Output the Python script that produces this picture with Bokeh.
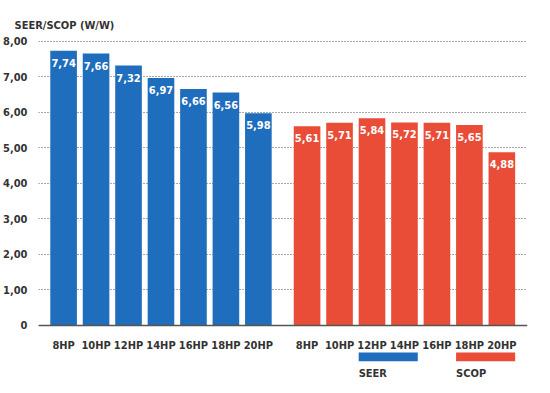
from bokeh.plotting import figure
from bokeh.models import Range1d, FixedTicker, ColumnDataSource
from bokeh.core.properties import value
from bokeh.embed import file_html
from bokeh.resources import INLINE

categories = ["8HP", "10HP", "12HP", "14HP", "16HP", "18HP", "20HP"]
seer = [7.74, 7.66, 7.32, 6.97, 6.66, 6.56, 5.98]
scop = [5.61, 5.71, 5.84, 5.72, 5.71, 5.65, 4.88]
series_names = ["SEER", "SCOP"]
y_ticks = [0, 1, 2, 3, 4, 5, 6, 7, 8]
y_tick_labels = ["0", "1,00", "2,00", "3,00", "4,00", "5,00", "6,00", "7,00", "8,00"]
y_title = "SEER/SCOP (W/W)"

BLUE = "#1f6dbd"
RED = "#e94c37"
FONT = "DejaVu Sans Condensed"
TXT = "#333333"
FS = "11px"

group_gap = 1.5
n = len(categories)
x_seer = [float(i) for i in range(n)]
x_scop = [n - 1 + group_gap + i for i in range(n)]

def fmt(v):
    return f"{v:.2f}".replace(".", ",")

p = figure(width=534, height=385, output_backend="svg", toolbar_location=None,
           x_range=Range1d(-0.773, x_scop[-1] + 0.79), y_range=Range1d(-1.69, 8.14),
           min_border_left=30, min_border_right=7, min_border_top=36, min_border_bottom=0)
p.outline_line_color = None
p.background_fill_color = "white"

p.title.text = y_title
p.title.align = "left"
p.title.offset = -24
p.title.text_font = FONT
p.title.text_font_size = FS
p.title.text_font_style = "bold"
p.title.text_color = TXT

bw = 0.82
src_s = ColumnDataSource(dict(x=x_seer, top=seer, lab=[fmt(v) for v in seer]))
src_c = ColumnDataSource(dict(x=x_scop, top=scop, lab=[fmt(v) for v in scop]))
p.vbar(x="x", top="top", width=bw, bottom=0, source=src_s, fill_color=BLUE, line_color=None)
p.vbar(x="x", top="top", width=bw, bottom=0, source=src_c, fill_color=RED, line_color=None)
for src in (src_s, src_c):
    p.text(x="x", y="top", text="lab", source=src, text_align="center", text_baseline="top",
           y_offset=8, text_color="white", text_font=value(FONT), text_font_size=FS,
           text_font_style="bold")

# legend swatches below the axis
legend_spans = [(x_scop[2], x_scop[3]), (x_scop[5], x_scop[6])]
leg = ColumnDataSource(dict(
    left=[a - bw / 2 for a, b in legend_spans],
    right=[b + bw / 2 for a, b in legend_spans],
    color=[BLUE, RED],
    name=series_names,
))
p.quad(left="left", right="right", bottom=-1.01, top=-0.76, fill_color="color",
       line_color=None, source=leg)
p.text(x="left", y=-1.17, text="name", source=leg, text_baseline="top", text_align="left",
       text_font=value(FONT), text_font_size=FS, text_font_style="bold", text_color=TXT)

# axes
p.xaxis.fixed_location = 0
p.xaxis.ticker = FixedTicker(ticks=x_seer + x_scop)
overrides = {}
for xv, c in zip(x_seer, categories):
    overrides[xv] = c
for xv, c in zip(x_scop, categories):
    overrides[xv] = c
p.xaxis.major_label_overrides = overrides
p.xaxis.major_tick_line_color = None
p.xaxis.minor_tick_line_color = None
p.xaxis.axis_line_color = "#555555"
p.xaxis.axis_line_width = 1.5
p.xaxis.major_label_standoff = 8
p.xaxis.major_label_text_font = FONT
p.xaxis.major_label_text_font_size = FS
p.xaxis.major_label_text_font_style = "bold"
p.xaxis.major_label_text_color = TXT

p.yaxis.ticker = FixedTicker(ticks=y_ticks)
p.yaxis.major_label_overrides = {t: l for t, l in zip(y_ticks, y_tick_labels)}
p.yaxis.axis_line_color = None
p.yaxis.major_tick_line_color = None
p.yaxis.minor_tick_line_color = None
p.yaxis.major_label_standoff = 5
p.yaxis.major_label_text_font = FONT
p.yaxis.major_label_text_font_size = FS
p.yaxis.major_label_text_font_style = "bold"
p.yaxis.major_label_text_color = TXT

p.xgrid.grid_line_color = None
p.ygrid.grid_line_color = "#555555"
p.ygrid.grid_line_dash = "1 2"
p.ygrid.grid_line_width = 1

open("out.html", "w").write(file_html(p, INLINE))
